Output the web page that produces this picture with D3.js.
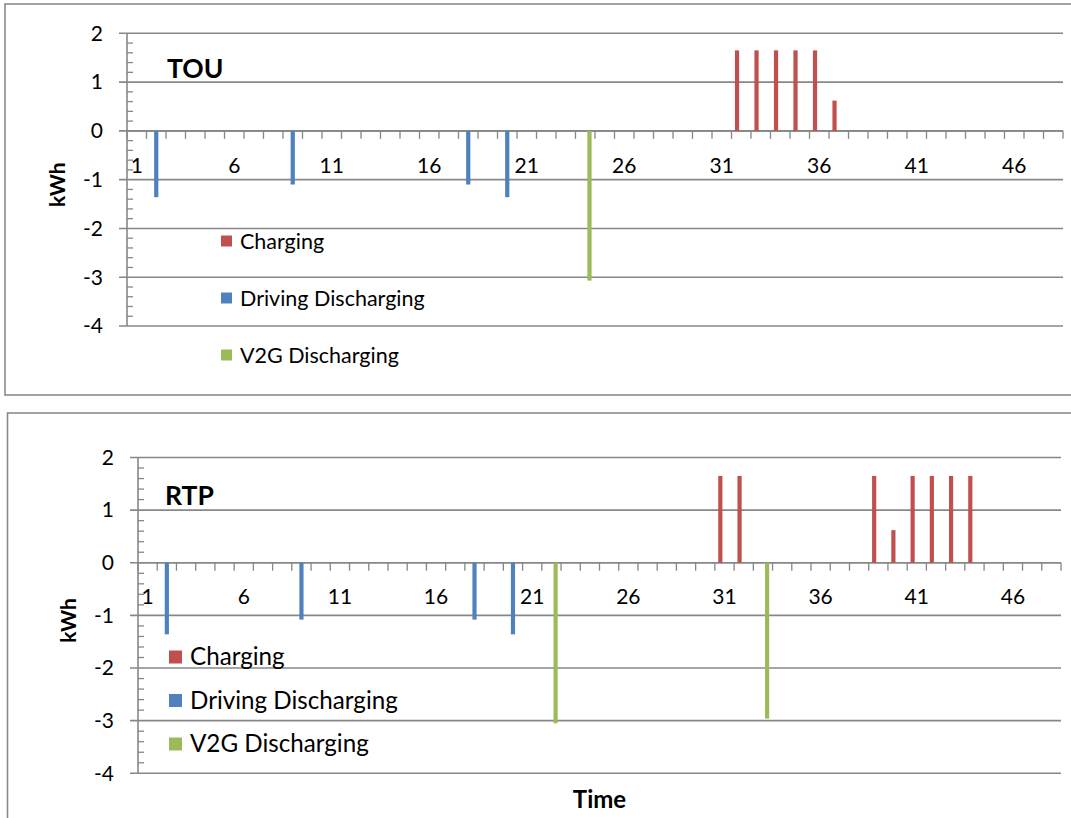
<!DOCTYPE html>
<html>
<head>
<meta charset="utf-8">
<script src="https://cdn.jsdelivr.net/npm/d3@7"></script>
<style>
  html, body { margin: 0; padding: 0; background: #fff; }
  svg { display: block; font-family: Lato, "Open Sans", sans-serif; }
</style>
</head>
<body>
<script>
// Half-hour time slots of one day
const slots = d3.range(1, 49);
const slotLabels = [1, 6, 11, 16, 21, 26, 31, 36, 41, 46];
const yTicks = [2, 1, 0, -1, -2, -3, -4];

const seriesNames = ["Charging", "Driving Discharging", "V2G Discharging"];
const seriesColors = ["#C0504D", "#4F81BD", "#9BBB59"];

// TOU tariff: [slot, kWh]
const touCharging = [[32, 1.65], [33, 1.65], [34, 1.65], [35, 1.65], [36, 1.65], [37, 0.62]];
const touDriving = [[2, -1.36], [9, -1.1], [18, -1.1], [20, -1.36]];
const touV2G = [[24, -3.07]];

// RTP tariff: [slot, kWh]
const rtpCharging = [[31, 1.65], [32, 1.65], [39, 1.65], [40, 0.62], [41, 1.65], [42, 1.65], [43, 1.65], [44, 1.65]];
const rtpDriving = [[2, -1.36], [9, -1.08], [18, -1.08], [20, -1.36]];
const rtpV2G = [[22, -3.05], [33, -2.96]];

const panels = [
  {
    title: "TOU",
    series: [touCharging, touDriving, touV2G],
    frame: { x: 5, y: 4, w: 1100, h: 391 },
    plot: { left: 127, right: 1063, top: 33.3, bottom: 326 },
    titlePos: { x: 167, y: 78 },
    legend: { x: 221, y0: 241, dy: 57, box: 11, gap: 8, size: 21.5 },
    ylabelX: 65,
    xLabelDy: 42,
    showTime: false
  },
  {
    title: "RTP",
    series: [rtpCharging, rtpDriving, rtpV2G],
    frame: { x: 7.5, y: 413, w: 1100, h: 500 },
    plot: { left: 138, right: 1061, top: 457.5, bottom: 773.3 },
    titlePos: { x: 165, y: 505 },
    legend: { x: 169, y0: 657, dy: 43.5, box: 13, gap: 8, size: 24.2 },
    ylabelX: 76,
    xLabelDy: 41,
    showTime: true
  }
];

const svg = d3.select("body").append("svg")
  .attr("width", 1071)
  .attr("height", 818);

const gridColor = "#878787";

panels.forEach(p => {
  const g = svg.append("g");

  // chart frame
  g.append("rect")
    .attr("x", p.frame.x).attr("y", p.frame.y)
    .attr("width", p.frame.w).attr("height", p.frame.h)
    .attr("fill", "none").attr("stroke", "#8a8a8a").attr("stroke-width", 1.6);

  const x = d3.scaleBand().domain(slots).range([p.plot.left, p.plot.right]).padding(0);
  const y = d3.scaleLinear().domain([-4, 2]).range([p.plot.bottom, p.plot.top]);
  const groupW = x.bandwidth() * 0.65;
  const inner = d3.scaleBand().domain(seriesNames).range([-groupW / 2, groupW / 2]).padding(0);

  // horizontal gridlines with outer major ticks
  g.append("g").selectAll("line").data(yTicks).join("line")
    .attr("x1", p.plot.left - 8).attr("x2", p.plot.right)
    .attr("y1", d => y(d)).attr("y2", d => y(d))
    .attr("stroke", gridColor).attr("stroke-width", 1.6);

  // vertical axis line
  g.append("line")
    .attr("x1", p.plot.left).attr("x2", p.plot.left)
    .attr("y1", y(2)).attr("y2", y(-4))
    .attr("stroke", gridColor).attr("stroke-width", 1.6);

  // minor ticks every 0.2 kWh on the inner side
  const minor = d3.range(-4, 2.001, 0.2).filter(v => Math.abs(v - Math.round(v)) > 1e-6);
  g.append("g").selectAll("line").data(minor).join("line")
    .attr("x1", p.plot.left).attr("x2", p.plot.left + 6)
    .attr("y1", d => y(d)).attr("y2", d => y(d))
    .attr("stroke", gridColor).attr("stroke-width", 1.3);

  // y tick labels
  g.append("g").selectAll("text").data(yTicks).join("text")
    .attr("x", p.plot.left - 24).attr("y", d => y(d))
    .attr("dy", "0.35em")
    .attr("text-anchor", "end")
    .attr("font-size", 21).attr("fill", "#000")
    .text(d => d);

  // zero axis with category boundary ticks
  const y0 = y(0);
  g.append("line")
    .attr("x1", p.plot.left).attr("x2", p.plot.right)
    .attr("y1", y0).attr("y2", y0)
    .attr("stroke", gridColor).attr("stroke-width", 1.6);
  const bounds = slots.map(s => x(s)).concat([p.plot.right]);
  g.append("g").selectAll("line").data(bounds).join("line")
    .attr("x1", d => d).attr("x2", d => d)
    .attr("y1", y0).attr("y2", y0 + 8)
    .attr("stroke", gridColor).attr("stroke-width", 1.3);

  // x tick labels
  g.append("g").selectAll("text").data(slotLabels).join("text")
    .attr("x", d => x(d) + x.bandwidth() / 2)
    .attr("y", y0 + p.xLabelDy)
    .attr("text-anchor", "middle")
    .attr("font-size", 21).attr("fill", "#000")
    .text(d => d);

  // bars
  p.series.forEach((data, i) => {
    const name = seriesNames[i];
    g.append("g").selectAll("rect").data(data).join("rect")
      .attr("x", d => x(d[0]) + x.bandwidth() / 2 + inner(name))
      .attr("width", inner.bandwidth())
      .attr("y", d => y(Math.max(0, d[1])))
      .attr("height", d => Math.abs(y(d[1]) - y(0)))
      .attr("fill", seriesColors[i]);
  });

  // panel title
  g.append("text")
    .attr("x", p.titlePos.x).attr("y", p.titlePos.y)
    .attr("font-size", 26.5).attr("font-weight", "bold")
    .text(p.title);

  // y axis title
  const midY = (y(0) + y(-2)) / 2 + 5;
  g.append("text")
    .attr("transform", `translate(${p.ylabelX},${midY}) rotate(-90)`)
    .attr("text-anchor", "middle")
    .attr("font-size", 21).attr("font-weight", "bold")
    .text("kWh");

  // legend
  const lg = g.append("g");
  seriesNames.forEach((name, i) => {
    const cy = p.legend.y0 + i * p.legend.dy;
    lg.append("rect")
      .attr("x", p.legend.x).attr("y", cy - p.legend.box / 2)
      .attr("width", p.legend.box).attr("height", p.legend.box)
      .attr("fill", seriesColors[i]);
    lg.append("text")
      .attr("x", p.legend.x + p.legend.box + p.legend.gap)
      .attr("y", cy).attr("dy", "0.35em")
      .attr("font-size", p.legend.size)
      .text(name);
  });

  if (p.showTime) {
    g.append("text")
      .attr("x", (p.plot.left + p.plot.right) / 2)
      .attr("y", 808)
      .attr("text-anchor", "middle")
      .attr("font-size", 24).attr("font-weight", "bold")
      .text("Time");
  }
});
</script>
</body>
</html>
